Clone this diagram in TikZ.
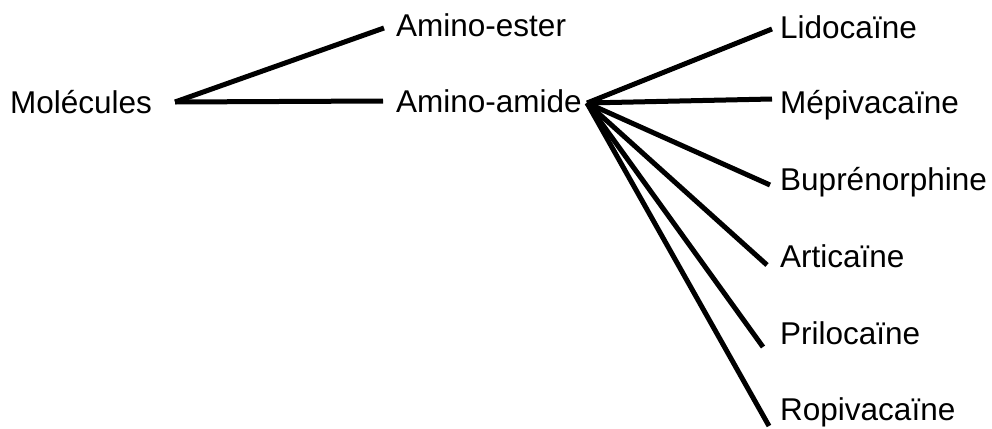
\documentclass[tikz,border=0pt]{standalone}
\usepackage{fontspec}
\setmainfont{Liberation Sans}
\begin{document}
\begin{tikzpicture}[x=1pt,y=-1pt,
  lbl/.style={anchor=base west,inner sep=0pt,font=\fontsize{31.5}{38}\selectfont},
  branch/.style={line width=5pt,line cap=butt}]
\useasboundingbox (0,0) rectangle (992,428);
% labels
\node[lbl] (mol) at (10,113.5) {Molécules};
\node[lbl] (ester) at (396,37) {Amino-ester};
\node[lbl] (amide) at (396,112) {Amino-amide};
\node[lbl] (lido) at (780,38) {Lidocaïne};
\node[lbl] (mepi) at (780,113) {Mépivacaïne};
\node[lbl] (bupr) at (780,190) {Buprénorphine};
\node[lbl] (arti) at (780,267) {Articaïne};
\node[lbl] (pril) at (780,344) {Prilocaïne};
\node[lbl] (ropi) at (780,420) {Ropivacaïne};
% connector end points
\coordinate (molR) at (175,102);
\coordinate (esterL) at (384,28);
\coordinate (amideL) at (383,101);
\coordinate (hub) at (587,103);
\coordinate (lidoL) at (772,29);
\coordinate (mepiL) at (772,99);
\coordinate (buprL) at (770,185);
\coordinate (artiL) at (767,265);
\coordinate (prilL) at (763,347);
\coordinate (ropiL) at (769,426);
% connectors
\draw[branch] (molR) -- (esterL);
\draw[branch] (molR) -- (amideL);
\draw[branch] (hub) -- (lidoL);
\draw[branch] (hub) -- (mepiL);
\draw[branch] (hub) -- (buprL);
\draw[branch] (hub) -- (artiL);
\draw[branch] (hub) -- (prilL);
\draw[branch] (hub) -- (ropiL);
\end{tikzpicture}
\end{document}
